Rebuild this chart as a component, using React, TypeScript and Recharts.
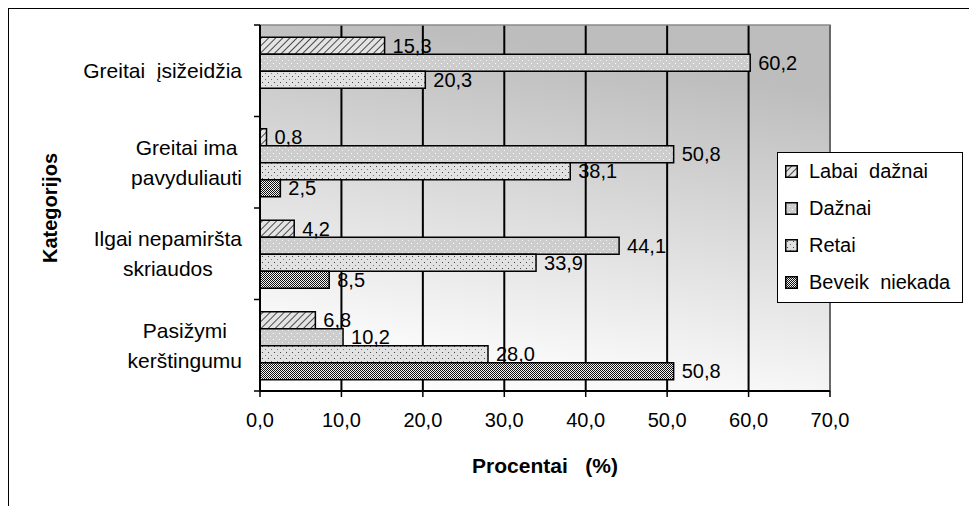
import React from 'react';
import { Bar, BarChart, CartesianGrid, Label, LabelList, ReferenceArea, XAxis, YAxis } from 'recharts';

const FONT = '"Liberation Sans", Arial, Helvetica, sans-serif';

// values (%)
const categories = [
  'Greitai  įsižeidžia',
  'Greitai ima\npavyduliauti',
  'Ilgai nepamiršta\nskriaudos',
  'Pasižymi\nkerštingumu',
];
const labaiDaznai = [15.3, 0.8, 4.2, 6.8];
const daznai = [60.2, 50.8, 44.1, 10.2];
const retai = [20.3, 38.1, 33.9, 28.0];
const beveikNiekada = [null, 2.5, 8.5, 50.8];
const seriesNames = ['Labai  dažnai', 'Dažnai', 'Retai', 'Beveik  niekada'];
const seriesKeys = ['labaiDaznai', 'daznai', 'retai', 'beveikNiekada'];
const seriesFills = ['url(#pHatch)', 'url(#pDots)', 'url(#pSparse)', 'url(#pCheck)'];
const xTicks = [0, 10, 20, 30, 40, 50, 60, 70];

const data = categories.map((c, i) => ({
  name: c,
  labaiDaznai: labaiDaznai[i],
  daznai: daznai[i],
  retai: retai[i],
  beveikNiekada: beveikNiekada[i],
}));

const W = 969;
const H = 498;
const margin = { top: 17, right: 147, bottom: 33, left: 12 };
const Y_AXIS_W = 240;
const X_AXIS_H = 82;
const AXIS_X = margin.left + Y_AXIS_W;
const PLOT_H = H - margin.top - margin.bottom - X_AXIS_H;
const BAND = PLOT_H / categories.length;
const LABEL_RIGHT = 234;

const fmt = (v: any) => (v === null || v === undefined ? '' : Number(v).toFixed(1).replace('.', ','));

let measureCtx: CanvasRenderingContext2D | null = null;
const textWidth = (s: string, size: number) => {
  if (!measureCtx) measureCtx = document.createElement('canvas').getContext('2d');
  if (!measureCtx) return s.length * size * 0.5;
  measureCtx.font = `${size}px ${FONT}`;
  return measureCtx.measureText(s).width;
};

const CategoryTick = (props: any) => {
  const { y, payload, index } = props;
  const lines = String(payload.value).split('\n');
  const blockW = Math.max(...lines.map((l) => textWidth(l, 21)));
  const cx = LABEL_RIGHT - blockW / 2;
  const lh = 30;
  const top = y - ((lines.length - 1) * lh) / 2;
  return (
    <g>
      <line x1={AXIS_X - 6} x2={AXIS_X} y1={y - BAND / 2} y2={y - BAND / 2} stroke="#000" strokeWidth={1.5} />
      {index === categories.length - 1 && (
        <line x1={AXIS_X - 6} x2={AXIS_X} y1={y + BAND / 2} y2={y + BAND / 2} stroke="#000" strokeWidth={1.5} />
      )}
      <text textAnchor="middle" fontSize={21} fontFamily={FONT} fill="#000" style={{ whiteSpace: 'pre' }}>
        {lines.map((l, i) => (
          <tspan key={i} x={cx} y={top + i * lh} dy="0.35em">
            {l}
          </tspan>
        ))}
      </text>
    </g>
  );
};

const Swatch = ({ fill }: { fill: string }) => (
  <svg width={13} height={13} style={{ display: 'block' }}>
    <rect x={0.75} y={0.75} width={11.5} height={11.5} fill={fill} stroke="#000" strokeWidth={1.5} />
  </svg>
);

export default function App() {
  return (
    <div style={{ position: 'relative', width: W, height: H, fontFamily: FONT }}>
      <div
        style={{
          position: 'absolute',
          left: -1,
          top: -1,
          right: 0,
          bottom: 0,
          borderLeft: '2px solid #000',
          borderTop: '2px solid #000',
          pointerEvents: 'none',
        }}
      />
      <BarChart
        width={W}
        height={H}
        data={data}
        layout="vertical"
        margin={margin}
        barCategoryGap="13.5%"
        barGap={0}
      >
        <defs>
          <linearGradient id="plotBg" x1="0" y1="1" x2="0.25" y2="0">
            <stop offset="0" stopColor="#ffffff" />
            <stop offset="0.2" stopColor="#f8f8f8" />
            <stop offset="1" stopColor="#bdbdbd" />
          </linearGradient>
          <pattern id="pHatch" width="5" height="5" patternUnits="userSpaceOnUse" patternTransform="rotate(45)">
            <rect width="5" height="5" fill="#e4e4e4" />
            <line x1="0" y1="0" x2="0" y2="5" stroke="#222" strokeWidth="1.6" />
          </pattern>
          <pattern id="pDots" width="6" height="6" patternUnits="userSpaceOnUse">
            <rect width="6" height="6" fill="#cdcdcd" />
            <rect x="1" y="1" width="1" height="1" fill="#ffffff" />
            <rect x="4" y="4" width="1" height="1" fill="#f2f2f2" />
          </pattern>
          <pattern id="pSparse" width="6" height="6" patternUnits="userSpaceOnUse">
            <rect width="6" height="6" fill="#e2e2e2" />
            <rect x="2" y="2" width="1" height="1" fill="#444" />
            <rect x="5" y="5" width="1" height="1" fill="#777" />
          </pattern>
          <pattern id="pCheck" width="2" height="2" patternUnits="userSpaceOnUse">
            <rect width="2" height="2" fill="#f4f4f4" />
            <rect x="0" y="0" width="1" height="1" fill="#111" />
            <rect x="1" y="1" width="1" height="1" fill="#111" />
          </pattern>
        </defs>
        <CartesianGrid horizontal={false} stroke="#000" strokeWidth={2} fill="url(#plotBg)" fillOpacity={1} />
        <ReferenceArea x1={0} x2={70} fill="none" stroke="#8a8a8a" strokeWidth={1.5} />
        <XAxis
          type="number"
          domain={[0, 70]}
          ticks={xTicks}
          tickFormatter={fmt}
          height={X_AXIS_H}
          axisLine={{ stroke: '#000', strokeWidth: 2 }}
          tickLine={{ stroke: '#000', strokeWidth: 1.5 }}
          tickSize={6}
          tickMargin={16}
          tick={{ fill: '#000', fontSize: 20, fontFamily: FONT }}
          allowDataOverflow
        >
          <Label
            value={'Procentai\u00a0\u00a0\u00a0(%)'}
            position="insideBottom"
            offset={0}
            fill="#000"
            fontSize={21}
            fontWeight="bold"
            fontFamily={FONT}
          />
        </XAxis>
        <YAxis
          type="category"
          dataKey="name"
          width={Y_AXIS_W}
          axisLine={{ stroke: '#000', strokeWidth: 2 }}
          tickLine={false}
          tick={<CategoryTick />}
          interval={0}
        >
          <Label
            value="Kategorijos"
            angle={-90}
            position="insideLeft"
            offset={30}
            fill="#000"
            fontSize={20}
            fontWeight="bold"
            fontFamily={FONT}
            style={{ textAnchor: 'middle' }}
          />
        </YAxis>
        {seriesKeys.map((k, i) => (
          <Bar
            key={k}
            dataKey={k}
            name={seriesNames[i]}
            fill={seriesFills[i]}
            stroke="#000"
            strokeWidth={1.5}
            isAnimationActive={false}
          >
            <LabelList
              dataKey={k}
              position="right"
              offset={8}
              formatter={fmt}
              fill="#000"
              fontSize={20}
              fontFamily={FONT}
            />
          </Bar>
        ))}
      </BarChart>
      <div
        style={{
          position: 'absolute',
          left: 769,
          top: 144,
          width: 186,
          height: 151,
          boxSizing: 'border-box',
          border: '1.5px solid #000',
          background: '#fff',
          paddingLeft: 7,
        }}
      >
        {seriesNames.map((n, i) => (
          <div key={n} style={{ display: 'flex', alignItems: 'center', height: 37, fontSize: 20, whiteSpace: 'pre' }}>
            <Swatch fill={seriesFills[i]} />
            <span style={{ marginLeft: 11 }}>{n}</span>
          </div>
        ))}
      </div>
    </div>
  );
}
